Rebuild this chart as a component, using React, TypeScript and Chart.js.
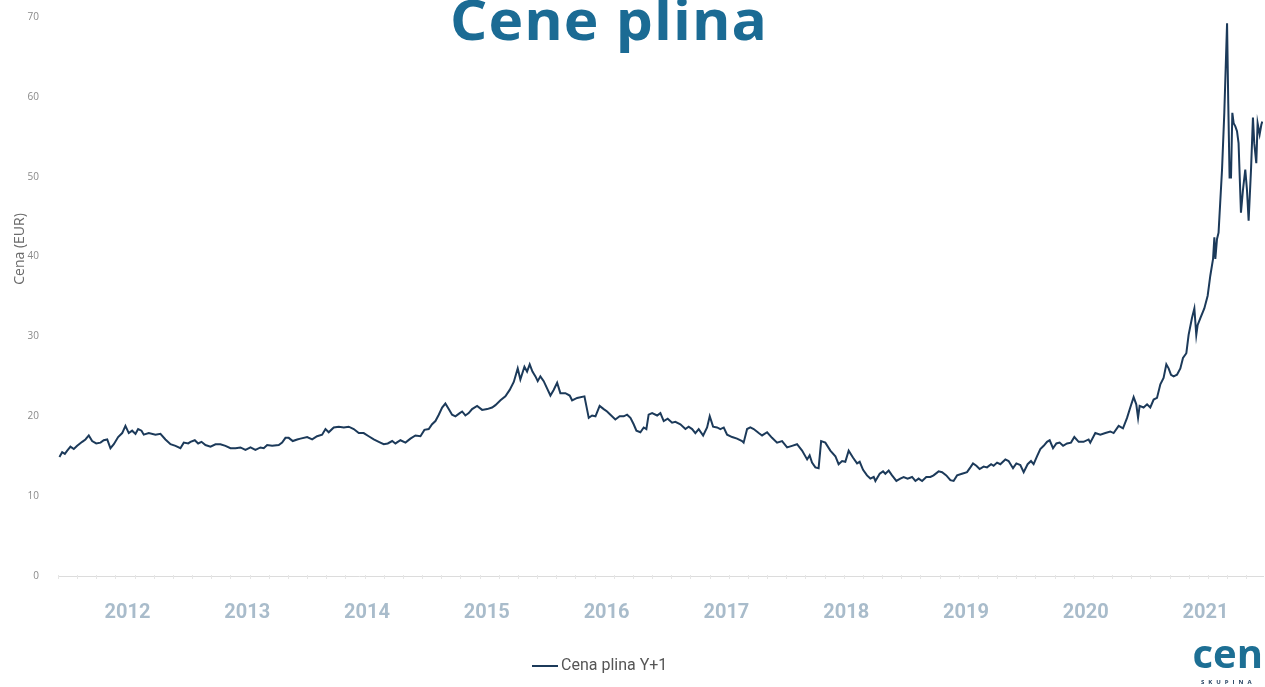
import { useEffect, useRef } from 'react';
import { Chart, registerables } from 'chart.js';

Chart.register(...registerables);

// Chart text
const TITLE = 'Cene plina';
const Y_TITLE = 'Cena (EUR)';
const SERIES_NAME = 'Cena plina Y+1';

// Axis ticks
const YEAR_LABELS = ['2012', '2013', '2014', '2015', '2016', '2017', '2018', '2019', '2020', '2021'];
const Y_TICKS = [0, 10, 20, 30, 40, 50, 60, 70];

// Observation dates (decimal years)
const DATES = [
  2011.932, 2011.955, 2011.977, 2011.997, 2012.024, 2012.052, 2012.080, 2012.122, 2012.149, 2012.177,
  2012.205, 2012.239, 2012.275, 2012.302, 2012.331, 2012.358, 2012.386, 2012.422, 2012.456, 2012.483,
  2012.511, 2012.539, 2012.567, 2012.589, 2012.617, 2012.636, 2012.678, 2012.734, 2012.775, 2012.817,
  2012.859, 2012.901, 2012.942, 2012.970, 2013.007, 2013.026, 2013.062, 2013.090, 2013.118, 2013.151,
  2013.193, 2013.235, 2013.276, 2013.318, 2013.360, 2013.402, 2013.443, 2013.485, 2013.527, 2013.568,
  2013.610, 2013.638, 2013.666, 2013.708, 2013.763, 2013.791, 2013.819, 2013.846, 2013.880, 2013.917,
  2013.944, 2014.000, 2014.042, 2014.083, 2014.125, 2014.153, 2014.180, 2014.222, 2014.264, 2014.306,
  2014.347, 2014.389, 2014.431, 2014.472, 2014.514, 2014.556, 2014.598, 2014.639, 2014.673, 2014.710,
  2014.737, 2014.779, 2014.821, 2014.862, 2014.904, 2014.946, 2014.979, 2015.015, 2015.043, 2015.071,
  2015.099, 2015.127, 2015.154, 2015.182, 2015.210, 2015.238, 2015.274, 2015.294, 2015.321, 2015.349,
  2015.377, 2015.419, 2015.461, 2015.503, 2015.544, 2015.572, 2015.614, 2015.655, 2015.691, 2015.725,
  2015.758, 2015.780, 2015.814, 2015.836, 2015.858, 2015.881, 2015.906, 2015.925, 2015.947, 2015.975,
  2016.003, 2016.031, 2016.058, 2016.087, 2016.114, 2016.156, 2016.192, 2016.212, 2016.254, 2016.315,
  2016.351, 2016.379, 2016.407, 2016.442, 2016.476, 2016.504, 2016.532, 2016.573, 2016.609, 2016.643,
  2016.671, 2016.699, 2016.726, 2016.749, 2016.782, 2016.810, 2016.832, 2016.851, 2016.880, 2016.922,
  2016.949, 2016.977, 2017.010, 2017.047, 2017.074, 2017.116, 2017.158, 2017.185, 2017.214, 2017.241,
  2017.269, 2017.306, 2017.339, 2017.361, 2017.389, 2017.422, 2017.450, 2017.478, 2017.506, 2017.548,
  2017.589, 2017.631, 2017.644, 2017.673, 2017.700, 2017.728, 2017.770, 2017.798, 2017.840, 2017.881,
  2017.923, 2017.965, 2018.007, 2018.048, 2018.090, 2018.132, 2018.174, 2018.195, 2018.215, 2018.243,
  2018.270, 2018.291, 2018.326, 2018.368, 2018.410, 2018.437, 2018.466, 2018.493, 2018.521, 2018.558,
  2018.591, 2018.613, 2018.641, 2018.674, 2018.702, 2018.730, 2018.744, 2018.780, 2018.808, 2018.827,
  2018.855, 2018.883, 2018.919, 2018.952, 2018.980, 2019.013, 2019.050, 2019.078, 2019.105, 2019.134,
  2019.169, 2019.203, 2019.230, 2019.272, 2019.301, 2019.336, 2019.370, 2019.397, 2019.426, 2019.467,
  2019.509, 2019.537, 2019.559, 2019.587, 2019.614, 2019.648, 2019.676, 2019.710, 2019.731, 2019.760,
  2019.787, 2019.829, 2019.856, 2019.893, 2019.921, 2019.954, 2019.982, 2020.015, 2020.043, 2020.065,
  2020.094, 2020.121, 2020.149, 2020.177, 2020.199, 2020.227, 2020.255, 2020.282, 2020.311, 2020.344,
  2020.377, 2020.405, 2020.441, 2020.482, 2020.524, 2020.538, 2020.580, 2020.622, 2020.664, 2020.705,
  2020.733, 2020.775, 2020.811, 2020.845, 2020.872, 2020.900, 2020.922, 2020.937, 2020.950, 2020.983,
  2021.012, 2021.039, 2021.067, 2021.095, 2021.123, 2021.150, 2021.173, 2021.192, 2021.212, 2021.234,
  2021.262, 2021.290, 2021.312, 2021.340, 2021.359, 2021.387, 2021.407, 2021.423, 2021.434, 2021.457,
  2021.490, 2021.518, 2021.540, 2021.563, 2021.574, 2021.582, 2021.596, 2021.609, 2021.638, 2021.657,
  2021.680, 2021.690, 2021.701, 2021.713, 2021.724, 2021.735, 2021.749, 2021.763, 2021.776, 2021.796,
  2021.813, 2021.832, 2021.846, 2021.860, 2021.880, 2021.896, 2021.907, 2021.924, 2021.935, 2021.952,
  2021.966, 2021.974,
];

// Gas price, year-ahead contract (EUR)
const PRICES = [
  14.9, 15.5, 15.3, 15.7, 16.2, 15.9, 16.3, 16.8, 17.1, 17.6,
  16.9, 16.6, 16.7, 17.0, 17.1, 16.0, 16.5, 17.4, 17.9, 18.8,
  17.9, 18.2, 17.8, 18.4, 18.2, 17.7, 17.9, 17.7, 17.8, 17.1,
  16.5, 16.3, 16.0, 16.7, 16.6, 16.8, 17.0, 16.6, 16.8, 16.4,
  16.2, 16.5, 16.5, 16.3, 16.0, 16.0, 16.1, 15.8, 16.1, 15.8,
  16.1, 16.0, 16.4, 16.3, 16.4, 16.7, 17.3, 17.3, 16.9, 17.1,
  17.2, 17.4, 17.1, 17.5, 17.7, 18.4, 18.0, 18.6, 18.7, 18.6,
  18.7, 18.4, 17.9, 17.9, 17.5, 17.1, 16.8, 16.5, 16.6, 16.9,
  16.6, 17.0, 16.7, 17.2, 17.6, 17.5, 18.3, 18.4, 19.0, 19.4,
  20.2, 21.1, 21.6, 20.9, 20.2, 20.0, 20.4, 20.6, 20.1, 20.4,
  20.9, 21.3, 20.8, 20.9, 21.1, 21.4, 22.0, 22.5, 23.3, 24.3,
  26.0, 24.6, 26.2, 25.6, 26.5, 25.6, 25.0, 24.4, 25.0, 24.4,
  23.5, 22.6, 23.3, 24.2, 22.9, 22.9, 22.6, 22.0, 22.3, 22.5,
  19.8, 20.1, 20.0, 21.3, 20.9, 20.6, 20.2, 19.6, 20.0, 20.0,
  20.2, 19.8, 19.0, 18.2, 18.0, 18.6, 18.4, 20.2, 20.4, 20.1,
  20.4, 19.4, 19.7, 19.2, 19.3, 19.0, 18.4, 18.7, 18.4, 17.9,
  18.4, 17.6, 18.6, 20.0, 18.7, 18.6, 18.4, 18.6, 17.7, 17.4,
  17.2, 16.9, 16.7, 18.4, 18.6, 18.4, 17.9, 17.6, 18.0, 17.3,
  16.7, 16.9, 16.1, 16.3, 16.5, 15.7, 14.6, 15.1, 14.2, 13.6,
  13.5, 16.9, 16.7, 15.7, 15.0, 14.0, 14.4, 14.3, 15.7, 14.8,
  14.1, 14.3, 13.3, 12.6, 12.2, 12.4, 11.9, 12.8, 13.1, 12.8,
  13.2, 12.6, 11.9, 12.2, 12.4, 12.2, 12.4, 11.9, 12.2, 11.9,
  12.4, 12.4, 12.6, 13.1, 13.0, 12.6, 12.0, 11.9, 12.6, 12.8,
  13.0, 13.6, 14.1, 13.8, 13.4, 13.7, 13.6, 14.0, 13.8, 14.2,
  14.0, 14.6, 14.4, 13.5, 14.1, 13.9, 13.0, 14.0, 14.4, 14.0,
  15.0, 15.9, 16.3, 16.8, 17.0, 16.0, 16.6, 16.7, 16.3, 16.6,
  16.7, 17.4, 16.8, 16.8, 17.1, 16.7, 17.9, 17.7, 17.9, 18.1,
  17.9, 18.8, 18.5, 19.8, 21.1, 22.4, 21.5, 19.8, 21.3, 21.1,
  21.5, 21.1, 22.1, 22.3, 24.0, 24.8, 26.5, 26.0, 25.2, 25.0,
  25.2, 26.0, 27.3, 27.9, 30.2, 32.3, 33.5, 30.2, 31.4, 32.3,
  33.5, 35.1, 37.6, 39.7, 42.4, 39.7, 42.2, 43.0, 50.9, 58.0,
  69.2, 59.2, 49.9, 49.9, 58.0, 56.7, 56.3, 55.7, 54.2, 45.5,
  48.4, 50.9, 48.4, 44.5, 50.9, 57.4, 54.2, 51.7, 56.7, 55.3,
  56.5, 56.9,
];

const X_MIN = 2011.92;
const X_MAX = 2021.98;
const MINOR_TICK_STEP = 0.16;

const LINE_COLOR = '#1c3a5a';
const TITLE_COLOR = '#1b6b94';
const YEAR_COLOR = '#a9bccb';
const TICK_COLOR = '#8a8a8a';
const AXIS_LINE_COLOR = '#dcdcdc';

// Heading, axis title, legend, minor axis ticks and logo drawn on the canvas
const decorations = {
  id: 'decorations',
  afterDraw(chart: any) {
    const { ctx, chartArea, scales } = chart;
    const xs = scales.x;
    ctx.save();

    // minor tick marks along the baseline
    ctx.strokeStyle = '#e6e6e6';
    ctx.lineWidth = 1;
    for (let v = X_MIN; v <= X_MAX; v += MINOR_TICK_STEP) {
      const px = Math.round(xs.getPixelForValue(v)) + 0.5;
      ctx.beginPath();
      ctx.moveTo(px, chartArea.bottom - 1);
      ctx.lineTo(px, chartArea.bottom + 3);
      ctx.stroke();
    }

    // heading, stretched to its box width
    const titleLeft = 450;
    const titleWidth = 318;
    ctx.save();
    ctx.font = 'bold 56px "Open Sans", sans-serif';
    ctx.fillStyle = TITLE_COLOR;
    ctx.textAlign = 'left';
    ctx.textBaseline = 'alphabetic';
    (ctx as any).letterSpacing = '1px';
    const natural = ctx.measureText(TITLE).width;
    ctx.translate(titleLeft, 40);
    ctx.scale(titleWidth / natural, 1);
    ctx.fillText(TITLE, 0, 0);
    ctx.restore();

    // vertical axis title
    ctx.save();
    ctx.translate(20, 249);
    ctx.rotate(-Math.PI / 2);
    ctx.font = '14px "Open Sans", sans-serif';
    ctx.fillStyle = '#6b6b6b';
    ctx.textAlign = 'center';
    ctx.textBaseline = 'middle';
    ctx.fillText(Y_TITLE, 0, 0);
    ctx.restore();

    // legend
    const ds = chart.data.datasets[0];
    ctx.strokeStyle = ds.borderColor;
    ctx.lineWidth = 2;
    ctx.beginPath();
    ctx.moveTo(532, 666);
    ctx.lineTo(558, 666);
    ctx.stroke();
    ctx.font = '16px Roboto, sans-serif';
    ctx.fillStyle = '#555555';
    ctx.textAlign = 'left';
    ctx.textBaseline = 'middle';
    ctx.fillText(ds.label, 561, 666);

    // logo
    ctx.font = 'bold 40px "Open Sans", sans-serif';
    ctx.fillStyle = '#1d6f94';
    ctx.textAlign = 'right';
    ctx.textBaseline = 'alphabetic';
    ctx.fillText('cen', 1263, 668);
    ctx.font = 'bold 6px "Open Sans", sans-serif';
    ctx.fillStyle = '#1c3a5a';
    (ctx as any).letterSpacing = '4px';
    ctx.textAlign = 'left';
    ctx.fillText('SKUPINA', 1201, 684);
    (ctx as any).letterSpacing = '0px';

    ctx.restore();
  },
};

export default function App() {
  const canvasRef = useRef<HTMLCanvasElement | null>(null);

  useEffect(() => {
    const canvas = canvasRef.current;
    if (!canvas) return;
    const points = DATES.map((d, i) => ({ x: d, y: PRICES[i] }));

    const chart = new Chart(canvas, {
      type: 'line',
      data: {
        datasets: [
          {
            label: SERIES_NAME,
            data: points,
            borderColor: LINE_COLOR,
            backgroundColor: LINE_COLOR,
            borderWidth: 2,
            pointRadius: 0,
            tension: 0,
            fill: false,
          },
        ],
      },
      options: {
        responsive: false,
        animation: false,
        devicePixelRatio: 1,
        layout: { padding: { top: 13, right: 2, bottom: 0, left: 0 } },
        plugins: {
          legend: { display: false },
          title: { display: false },
          tooltip: { enabled: false },
        },
        scales: {
          x: {
            type: 'linear',
            min: X_MIN,
            max: X_MAX,
            grid: { display: false },
            border: { display: true, color: AXIS_LINE_COLOR, width: 1 },
            afterBuildTicks: (scale: any) => {
              scale.ticks = YEAR_LABELS.map((y) => ({ value: Number(y) + 0.5 }));
            },
            afterFit: (scale: any) => {
              scale.height = 111;
            },
            ticks: {
              autoSkip: false,
              maxRotation: 0,
              padding: 17,
              color: YEAR_COLOR,
              font: { family: 'Roboto, sans-serif', size: 20, weight: 'bold' },
              callback: (v: any) => String(Math.floor(Number(v))),
            },
          },
          y: {
            min: 0,
            max: 70,
            grid: { display: false },
            border: { display: false },
            afterBuildTicks: (scale: any) => {
              scale.ticks = Y_TICKS.map((v) => ({ value: v }));
            },
            afterFit: (scale: any) => {
              scale.width = 58;
            },
            ticks: {
              padding: 11,
              color: TICK_COLOR,
              font: { family: '"Open Sans", sans-serif', size: 10 },
            },
          },
        },
      },
      plugins: [decorations],
    });

    return () => chart.destroy();
  }, []);

  return (
    <div style={{ position: 'fixed', left: 0, top: 0, width: 1265, height: 687, background: '#ffffff' }}>
      <canvas ref={canvasRef} width={1265} height={687} style={{ display: 'block' }} />
    </div>
  );
}
